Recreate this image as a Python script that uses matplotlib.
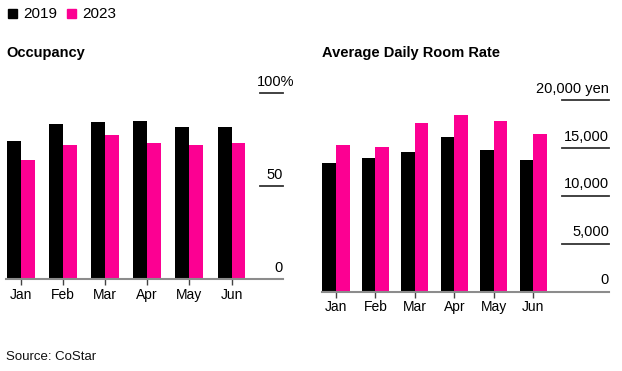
import numpy as np
import matplotlib
matplotlib.use('Agg')
import matplotlib.pyplot as plt
import matplotlib.transforms as mtransforms

plt.rcParams['font.family'] = ['Liberation Sans', 'DejaVu Sans']

months = ['Jan', 'Feb', 'Mar', 'Apr', 'May', 'Jun']
occ_2019 = [74.5, 83.3, 84.6, 84.9, 81.7, 81.9]
occ_2023 = [64.3, 72.0, 77.4, 73.3, 72.4, 73.1]
adr_2019 = [13420, 14010, 14640, 16210, 14810, 13770]
adr_2023 = [15340, 15100, 17610, 18470, 17880, 16520]
occ_ticks = [0, 50, 100]
occ_labels = ['0', '50', '100%']
adr_ticks = [0, 5000, 10000, 15000, 20000]
adr_labels = ['0', '5,000', '10,000', '15,000', '20,000 yen']

BLACK = '#000000'
PINK = '#fc0092'
W = 622
H = 371

fig = plt.figure(figsize=(W / 100, H / 100), dpi=100)


def px_axes(x0, y0, x1, y1):
    # pixel box (top-left origin) -> figure axes
    return fig.add_axes([x0 / W, 1 - y1 / H, (x1 - x0) / W, (y1 - y0) / H])


def draw_panel(ax, v19, v23, width, ticks, labels, ymax, grid_from, xlim):
    x = np.arange(len(months))
    ax.bar(x - width / 2, v19, width, color=BLACK, linewidth=0)
    ax.bar(x + width / 2, v23, width, color=PINK, linewidth=0)
    ax.set_xlim(*xlim)
    ax.set_ylim(0, ymax)
    for s in ['top', 'right', 'left']:
        ax.spines[s].set_visible(False)
    ax.spines['bottom'].set_color('#8c8c8c')
    ax.spines['bottom'].set_linewidth(1.5)
    ax.set_xticks(x)
    ax.set_xticklabels(months, fontsize=10)
    ax.tick_params(axis='x', length=4, width=1, color='#444444', pad=2)
    ax.set_yticks([])
    trans = mtransforms.blended_transform_factory(ax.transAxes, ax.transData)
    for t, lab in zip(ticks, labels):
        if t > 0:
            ax.plot([grid_from, 1.0], [t, t], transform=trans,
                    color='#333333', lw=1.3, clip_on=False)
        # a trailing % hangs past the right edge
        dx = 8 if lab.endswith('%') else 0
        off = mtransforms.offset_copy(trans, fig=fig, x=dx, y=5.5,
                                      units='points')
        ax.text(1.0, t, lab, transform=off, ha='right', va='baseline',
                fontsize=10.5)


ax1 = px_axes(6, 93.3, 283, 279.3)
draw_panel(ax1, occ_2019, occ_2023, 0.33, occ_ticks, occ_labels,
           100, 0.917, (-0.35, 6.22))

ax2 = px_axes(322.3, 100.3, 609, 291.7)
draw_panel(ax2, adr_2019, adr_2023, 0.345, adr_ticks, adr_labels,
           20000, 0.835, (-0.345, 6.92))

# titles
fig.text(6 / W, 1 - 57 / H, 'Occupancy', fontsize=10.5, fontweight='bold',
         ha='left', va='baseline')
fig.text(322 / W, 1 - 57 / H, 'Average Daily Room Rate', fontsize=10.5,
         fontweight='bold', ha='left', va='baseline')

# legend
for x0, col, lab in [(8, BLACK, '2019'), (67, PINK, '2023')]:
    fig.patches.append(plt.Rectangle((x0 / W, 1 - 17.5 / H), 9 / W, 9 / H,
                                     transform=fig.transFigure, color=col))
    fig.text((x0 + 15) / W, 1 - 17.5 / H, lab, fontsize=11, ha='left',
             va='baseline')

fig.text(6 / W, 1 - 360 / H, 'Source: CoStar', fontsize=9.5, ha='left',
         va='baseline', color='#111111')

fig.savefig('out.png', dpi=100)
